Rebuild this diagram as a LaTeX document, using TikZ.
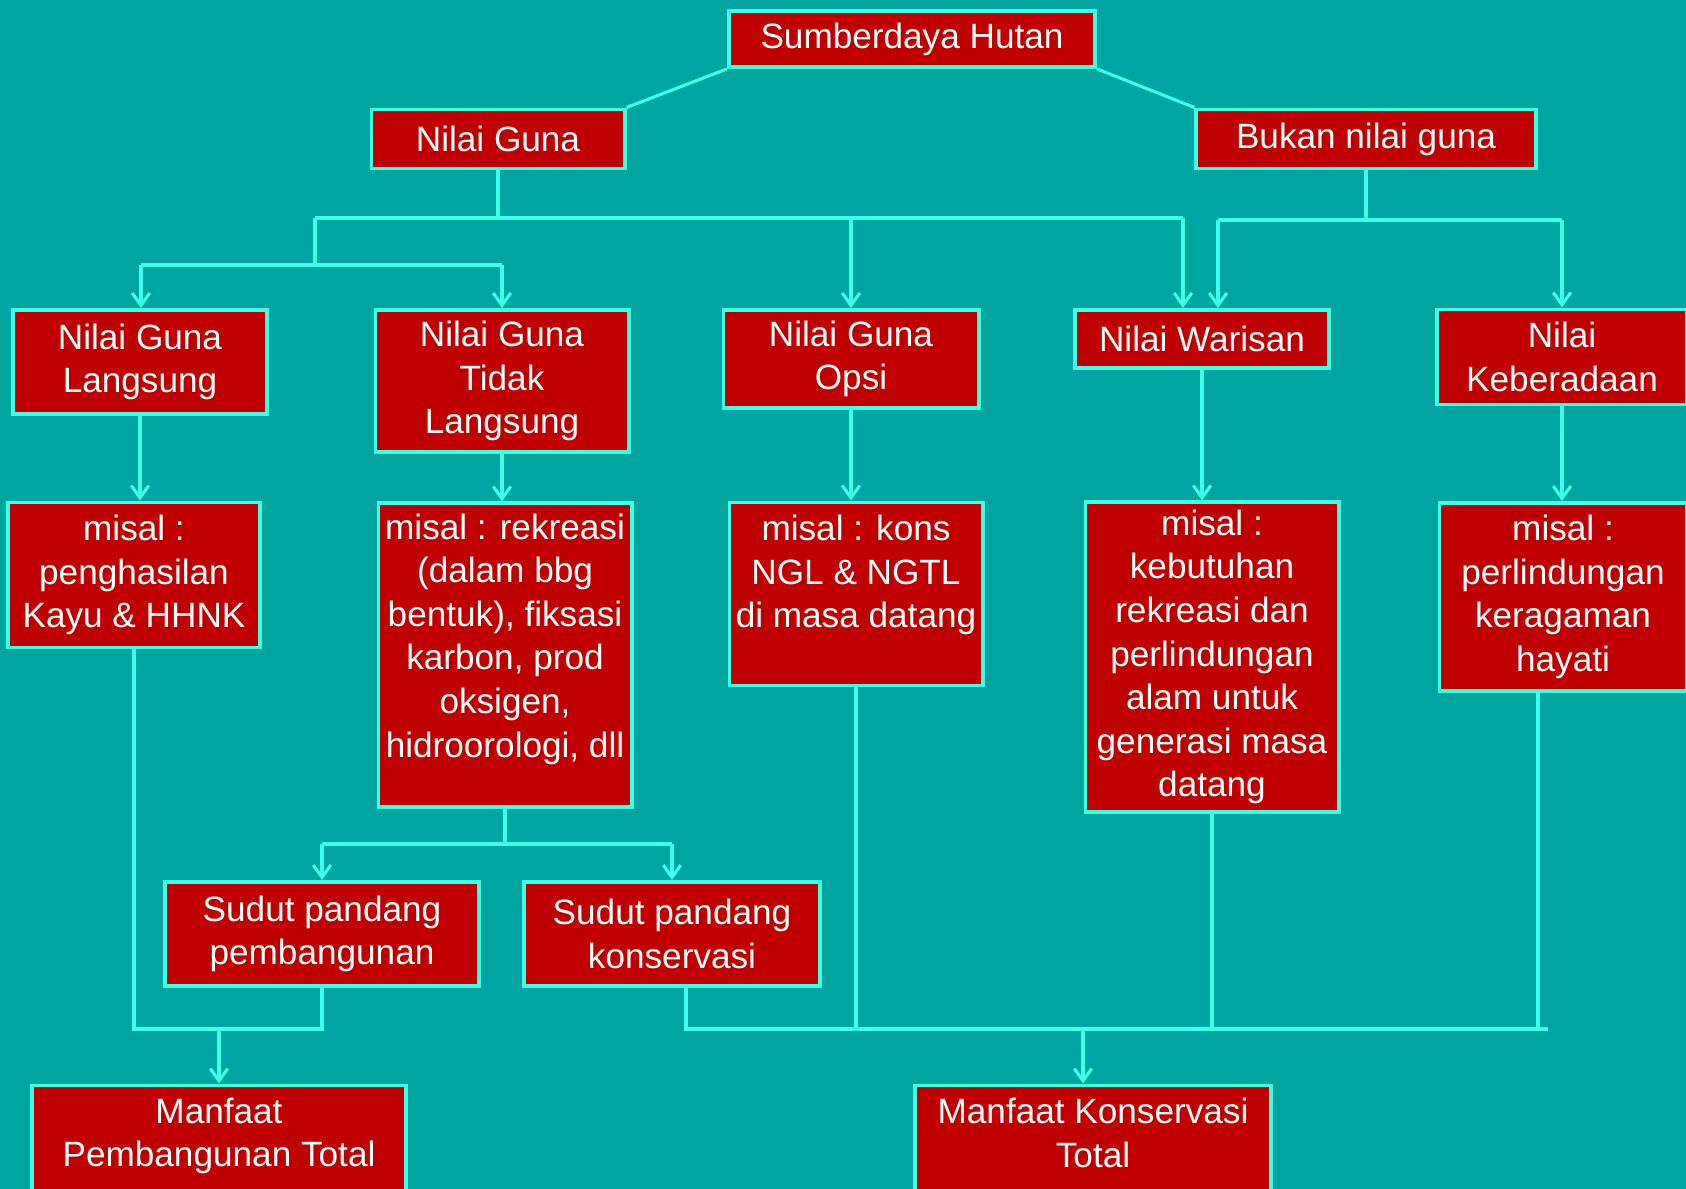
\documentclass[tikz,border=0pt]{standalone}
\usepackage{fontspec}
\setmainfont{Liberation Sans}
\usetikzlibrary{positioning, calc, arrows.meta}

\definecolor{bgTeal}{RGB}{0, 164, 160}
\definecolor{boxRed}{RGB}{192, 0, 0}
\definecolor{lineCyan}{RGB}{60, 255, 230}

\begin{document}
\begin{tikzpicture}[
    x=0.01cm, y=-0.01cm,
    box/.style={rectangle, draw=lineCyan, line width=1.1pt, fill=boxRed,
                text=white, align=center, inner sep=0pt,
                font=\fontsize{10}{12.4}\selectfont},
    boxtext/.style={text=white, align=center, inner sep=0pt,
                    font=\fontsize{10}{12.4}\selectfont},
    link/.style={lineCyan, line width=0.9pt},
    arr/.style={link, -{Straight Barb[length=3.5pt,width=5pt]}},
  ]
    % page and background
    \useasboundingbox (0,0) rectangle (1686,1189);
    \fill[bgTeal] (0,0) rectangle (1686,1189);

    % top level
    \node[box, minimum width=3.66cm, minimum height=0.56cm] (hutan) at (912,39) {Sumberdaya Hutan};
    \node[box, minimum width=2.53cm, minimum height=0.59cm] (guna) at (498,139) {Nilai Guna};
    \node[box, minimum width=3.39cm, minimum height=0.59cm] (bukan) at (1366,139) {Bukan nilai guna};

    % value types
    \node[box, minimum width=2.54cm, minimum height=1.04cm] (ngl) at (140,362) {Nilai Guna\\Langsung};
    \node[box, minimum width=2.53cm, minimum height=1.42cm] (ngtl) at (502,381) {Nilai Guna\\Tidak\\Langsung};
    \node[box, minimum width=2.55cm, minimum height=0.98cm] (opsi) at (851,359) {Nilai Guna\\Opsi};
    \node[box, minimum width=2.54cm, minimum height=0.58cm] (waris) at (1202,339) {Nilai Warisan};
    \node[box, minimum width=2.50cm, minimum height=0.95cm] (ada) at (1562,357) {Nilai\\Keberadaan};

    % examples
    \node[box, minimum width=2.51cm, minimum height=1.45cm] (exNgl) at (134,575) {misal :\\penghasilan\\Kayu \& HHNK};
    \node[box, minimum width=2.53cm, minimum height=3.03cm] (exNgtl) at (505,655) {};
    \node[boxtext] (exNgtlT) at ([yshift=0.16cm]exNgtl.center)
         {misal : rekreasi\\(dalam bbg\\bentuk), fiksasi\\karbon, prod\\oksigen,\\hidroorologi, dll};
    \node[box, minimum width=2.53cm, minimum height=1.83cm] (exOpsi) at (856,594) {};
    \node[boxtext] (exOpsiT) at ([yshift=0.19cm]exOpsi.center) {misal : kons\\NGL \& NGTL\\di masa datang};
    \node[box, minimum width=2.53cm, minimum height=3.09cm] (exWaris) at (1212,657)
         {misal :\\kebutuhan\\rekreasi dan\\perlindungan\\alam untuk\\generasi masa\\datang};
    \node[box, minimum width=2.47cm, minimum height=1.88cm] (exAda) at (1563,597) {misal :\\perlindungan\\keragaman\\hayati};

    % viewpoints
    \node[box, minimum width=3.14cm, minimum height=1.04cm] (spBang) at (322,934) {Sudut pandang\\pembangunan};
    \node[box, minimum width=2.95cm, minimum height=1.04cm] (spKons) at (672,934) {Sudut pandang\\konservasi};

    % totals
    \node[box, minimum width=3.73cm, minimum height=1.13cm] (mpt) at (219,1142) {};
    \node[boxtext] (mptT) at ([yshift=0.06cm]mpt.center) {Manfaat\\Pembangunan Total};
    \node[box, minimum width=3.55cm, minimum height=1.13cm] (mkt) at (1093,1142) {};
    \node[boxtext] (mktT) at ([yshift=0.09cm]mkt.center) {Manfaat Konservasi\\Total};

    % bus points
    \coordinate (gLeft) at (315,218);
    \coordinate (gRight) at (1183,218);
    \coordinate (dLeft) at (141,265);
    \coordinate (bLeft) at (1218,220);
    \coordinate (sBus) at (0,844);
    \coordinate (tBus) at (0,1029);

    % top split
    \draw[link] (hutan.south west) -- (guna.north east);
    \draw[link] (hutan.south east) -- (bukan.north west);

    % Nilai Guna
    \draw[link] (guna.south) -- (guna.south |- gLeft);
    \draw[link] (gLeft) -- (gRight);
    \draw[link] (gLeft) -- (gLeft |- dLeft);
    \draw[link] (dLeft) -- (ngtl.north |- dLeft);
    \draw[arr] (dLeft) -- (dLeft |- ngl.north);
    \draw[arr] (ngtl.north |- dLeft) -- (ngtl.north);
    \draw[arr] (opsi.north |- gLeft) -- (opsi.north);
    \draw[arr] (gRight) -- (gRight |- waris.north);

    % Bukan nilai guna
    \draw[link] (bukan.south) -- (bukan.south |- bLeft);
    \draw[link] (bLeft) -- (ada.north |- bLeft);
    \draw[arr] (bLeft) -- (bLeft |- waris.north);
    \draw[arr] (ada.north |- bLeft) -- (ada.north);

    % down to examples
    \draw[arr] (ngl.south) -- (ngl.south |- exNgl.north);
    \draw[arr] (ngtl.south) -- (ngtl.south |- exNgtl.north);
    \draw[arr] (opsi.south) -- (opsi.south |- exOpsi.north);
    \draw[arr] (waris.south) -- (waris.south |- exWaris.north);
    \draw[arr] (ada.south) -- (ada.south |- exAda.north);

    % viewpoints
    \draw[link] (exNgtl.south) -- (exNgtl.south |- sBus);
    \draw[link] (spBang.north |- sBus) -- (spKons.north |- sBus);
    \draw[arr] (spBang.north |- sBus) -- (spBang.north);
    \draw[arr] (spKons.north |- sBus) -- (spKons.north);

    % total development
    \draw[link] (exNgl.south) -- (exNgl.south |- tBus) -- (spBang.south |- tBus) -- (spBang.south);
    \draw[arr] (mpt.north |- tBus) -- (mpt.north);

    % total conservation
    \draw[link] ([xshift=0.14cm]spKons.south) |- ([xshift=-0.15cm]exAda.south |- tBus);
    \draw[link] (exOpsi.south) -- (exOpsi.south |- tBus);
    \draw[link] (exWaris.south) -- (exWaris.south |- tBus);
    \draw[link] ([xshift=-0.25cm]exAda.south) -- ([xshift=-0.25cm]exAda.south |- tBus);
    \draw[arr] ([xshift=-0.1cm]mkt.north |- tBus) -- ([xshift=-0.1cm]mkt.north);
\end{tikzpicture}
\end{document}
